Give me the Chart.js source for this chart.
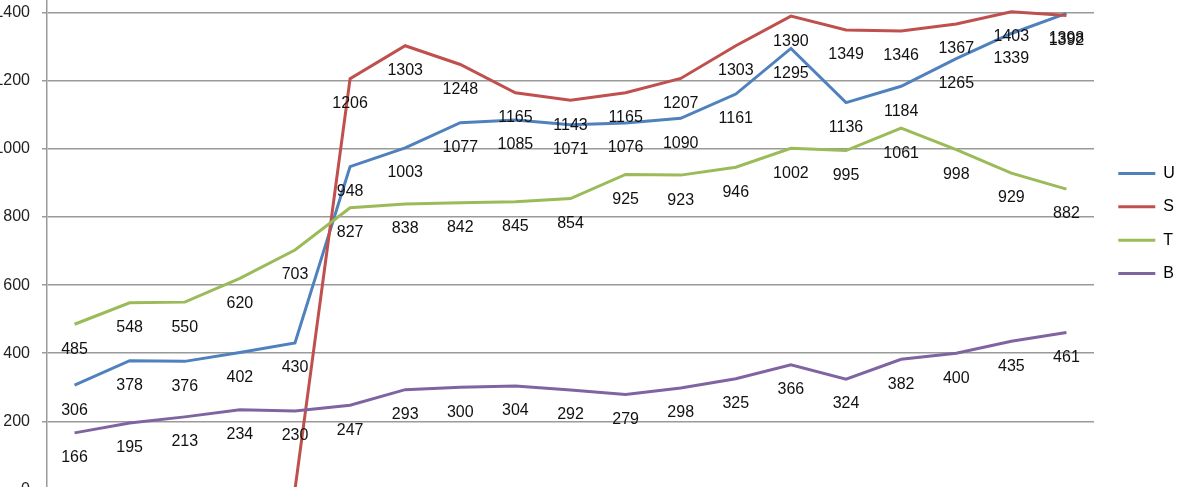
<!DOCTYPE html>
<html>
<head>
<meta charset="utf-8">
<script src="https://cdn.jsdelivr.net/npm/chart.js@4.4.0/dist/chart.umd.min.js"></script>
<style>
  html, body { margin: 0; padding: 0; background: #fff; overflow: hidden; width: 1186px; height: 487px; }
  #wrap { position: absolute; left: -13px; top: -76.6px; width: 1194px; height: 588px; }
</style>
</head>
<body>
<div id="wrap"><canvas id="c"></canvas></div>
<script>
// ---- data ----
const categories = ['1','2','3','4','5','6','7','8','9','10','11','12','13','14','15','16','17','18','19'];
const seriesNames = ['U', 'S', 'T', 'B'];
const valuesU = [306, 378, 376, 402, 430, 948, 1003, 1077, 1085, 1071, 1076, 1090, 1161, 1295, 1136, 1184, 1265, 1339, 1398];
const valuesS = [0, 0, 0, 0, 0, 1206, 1303, 1248, 1165, 1143, 1165, 1207, 1303, 1390, 1349, 1346, 1367, 1403, 1392];
const valuesT = [485, 548, 550, 620, 703, 827, 838, 842, 845, 854, 925, 923, 946, 1002, 995, 1061, 998, 929, 882];
const valuesB = [166, 195, 213, 234, 230, 247, 293, 300, 304, 292, 279, 298, 325, 366, 324, 382, 400, 435, 461];
const yTickValues = [0, 200, 400, 600, 800, 1000, 1200, 1400, 1600];

// ---- styles ----
const colors = { U: '#4F81BD', S: '#C0504D', T: '#9BBB59', B: '#8064A2' };
const FONT = '"Liberation Sans", Arial, sans-serif';
const gridColor = '#9a9a9a';

const valueLabels = {
  id: 'valueLabels',
  afterDatasetsDraw(chart) {
    const ctx = chart.ctx;
    ctx.save();
    ctx.font = '16px ' + FONT;
    ctx.fillStyle = '#111';
    ctx.textAlign = 'center';
    ctx.textBaseline = 'middle';
    chart.data.datasets.forEach((ds, di) => {
      const meta = chart.getDatasetMeta(di);
      meta.data.forEach((pt, i) => {
        ctx.fillText(String(ds.data[i]), pt.x, pt.y + 25);
      });
    });
    ctx.restore();
  }
};

function makeDataset(name, values, order) {
  return {
    label: name,
    data: values,
    borderColor: colors[name],
    backgroundColor: colors[name],
    borderWidth: 3,
    pointRadius: 0,
    pointHoverRadius: 0,
    tension: 0,
    fill: false,
    order: order
  };
}

new Chart(document.getElementById('c'), {
  type: 'line',
  data: {
    labels: categories,
    datasets: [
      makeDataset(seriesNames[0], valuesU, 4),
      makeDataset(seriesNames[1], valuesS, 3),
      makeDataset(seriesNames[2], valuesT, 2),
      makeDataset(seriesNames[3], valuesB, 1)
    ]
  },
  options: {
    responsive: true,
    maintainAspectRatio: false,
    animation: false,
    events: [],
    layout: { padding: { top: 13, left: 0, right: 0, bottom: 0 } },
    scales: {
      x: {
        display: true,
        offset: true,
        grid: { display: false },
        border: { display: false },
        ticks: { display: false },
        afterFit: s => { s.height = 13; }
      },
      y: {
        position: 'left',
        min: 0,
        max: 1600,
        afterBuildTicks: s => { s.ticks = yTickValues.map(v => ({ value: v })); },
        afterFit: s => { s.width = 60; },
        grid: { color: gridColor, lineWidth: 1.5, tickLength: 5, drawTicks: true },
        border: { display: true, color: gridColor, width: 1.5 },
        ticks: {
          padding: 12,
          color: '#222',
          font: { family: FONT, size: 16 },
          callback: v => String(v)
        }
      },
      gap: {
        type: 'linear',
        position: 'right',
        display: true,
        grid: { display: false },
        border: { display: false },
        ticks: { display: false },
        afterFit: s => { s.width = 7; }
      }
    },
    plugins: {
      tooltip: { enabled: false },
      legend: {
        position: 'right',
        align: 'center',
        maxWidth: 80,
        labels: {
          boxWidth: 37,
          boxHeight: 3,
          padding: 17.3,
          color: '#111',
          font: { family: FONT, size: 16 },
          generateLabels: chart => chart.data.datasets.map((ds, i) => ({
            text: ds.label,
            fillStyle: ds.borderColor,
            strokeStyle: ds.borderColor,
            lineWidth: 0,
            hidden: false,
            datasetIndex: i
          }))
        }
      }
    }
  },
  plugins: [valueLabels]
});
</script>
</body>
</html>
